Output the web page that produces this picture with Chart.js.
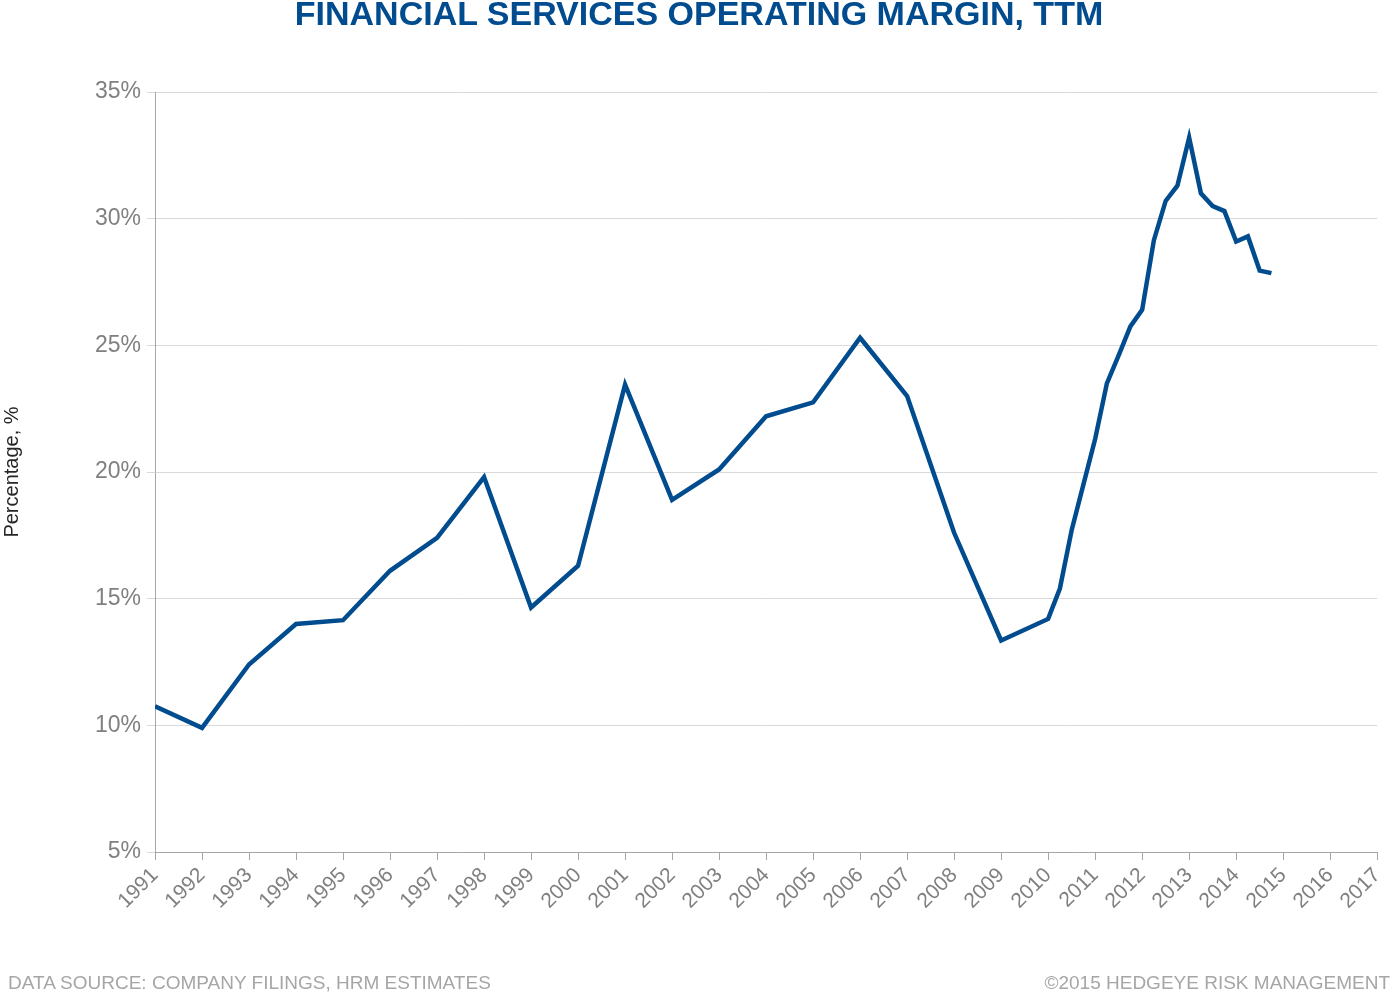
<!DOCTYPE html>
<html>
<head>
<meta charset="utf-8">
<script src="https://cdn.jsdelivr.net/npm/chart.js@4"></script>
<style>
  body { margin: 0; background: #fff; font-family: "Liberation Sans", Arial, sans-serif; }
  #wrap { position: relative; width: 1398px; height: 994px; }
  #title { position: absolute; top: -6px; left: 0; width: 1398px; text-align: center; color: #004C8F; font-size: 34px; font-weight: bold; }
  .foot { position: absolute; top: 972px; color: #A6A6A6; font-size: 19px; }
</style>
</head>
<body>
<div id="wrap">
  <canvas id="chart" width="1398" height="994"></canvas>
  <div id="title">FINANCIAL SERVICES OPERATING MARGIN, TTM</div>
  <div class="foot" style="left:8px">DATA SOURCE: COMPANY FILINGS, HRM ESTIMATES</div>
  <div class="foot" style="right:8px">©2015 HEDGEYE RISK MANAGEMENT</div>
</div>
<script>
// Dados
const periods = [1991, 1992, 1993, 1994, 1995, 1996, 1997, 1998, 1999, 2000,
  2001, 2002, 2003, 2004, 2005, 2006, 2007, 2008, 2009, 2010,
  2010.25, 2010.5, 2010.75, 2011, 2011.25, 2011.5, 2011.75, 2012,
  2012.25, 2012.5, 2012.75, 2013, 2013.25, 2013.5, 2013.75, 2014,
  2014.25, 2014.5, 2014.75];
const margin = [10.75, 9.9, 12.4, 14.0, 14.15, 16.1, 17.4, 19.8, 14.65, 16.3,
  23.45, 18.9, 20.1, 22.2, 22.75, 25.3, 23.0, 17.6, 13.35, 14.2,
  15.4, 17.7, 19.5, 21.3, 23.5, 24.6, 25.75, 26.4,
  29.15, 30.7, 31.3, 33.2, 31.0, 30.5, 30.3, 29.1,
  29.3, 27.95, 27.85];
const yTicks = [5, 10, 15, 20, 25, 30, 35];

const ctx = document.getElementById('chart').getContext('2d');
new Chart(ctx, {
  type: 'line',
  data: {
    datasets: [{
      data: periods.map((p, i) => ({ x: p, y: margin[i] })),
      borderColor: '#004C8F',
      borderWidth: 4.5,
      pointRadius: 0,
      tension: 0
    }]
  },
  options: {
    responsive: false,
    animation: false,
    layout: { padding: { top: 92, right: 18, left: 0, bottom: 0 } },
    plugins: { legend: { display: false }, tooltip: { enabled: false } },
    scales: {
      x: {
        type: 'linear', min: 1991, max: 2017,
        afterFit: s => { s.height = 142; },
        afterBuildTicks: s => { s.ticks = Array.from({ length: 27 }, (_, i) => ({ value: 1991 + i })); },
        ticks: {
          stepSize: 1, autoSkip: false, minRotation: 45, maxRotation: 45,
          color: '#808080', font: { family: 'Liberation Sans', size: 21 },
          callback: v => String(v)
        },
        grid: { display: true, drawOnChartArea: false, color: '#A6A6A6', tickLength: 8 },
        border: { color: '#A6A6A6', width: 1 }
      },
      y: {
        min: 5, max: 35,
        afterFit: s => { s.width = 155; },
        afterBuildTicks: s => { s.ticks = yTicks.map(v => ({ value: v })); },
        ticks: {
          color: '#808080', font: { family: 'Liberation Sans', size: 23 },
          callback: v => v + '%', padding: 6
        },
        grid: { color: '#D9D9D9', tickLength: 8 },
        border: { color: '#A6A6A6' },
        title: {
          display: true, text: 'Percentage, %', color: '#262626',
          font: { family: 'Liberation Sans', size: 20 }, padding: 0
        }
      }
    }
  }
});
</script>
</body>
</html>
